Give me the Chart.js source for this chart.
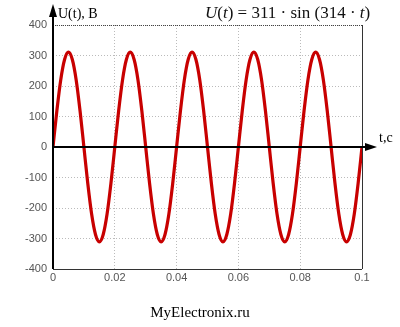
<!DOCTYPE html>
<html>
<head>
<meta charset="utf-8">
<script src="https://cdn.jsdelivr.net/npm/chart.js@4"></script>
<style>
  html, body { margin: 0; padding: 0; background: #fff; }
  #wrap { width: 400px; height: 327px; }
</style>
</head>
<body>
<div id="wrap"><canvas id="grafik" width="400" height="327"></canvas></div>
<script>
// vremena (s), korak 0.00125
const vremena = [
  0, 0.00125, 0.0025, 0.00375, 0.005, 0.00625, 0.0075, 0.00875,
  0.01, 0.01125, 0.0125, 0.01375, 0.015, 0.01625, 0.0175, 0.01875,
  0.02, 0.02125, 0.0225, 0.02375, 0.025, 0.02625, 0.0275, 0.02875,
  0.03, 0.03125, 0.0325, 0.03375, 0.035, 0.03625, 0.0375, 0.03875,
  0.04, 0.04125, 0.0425, 0.04375, 0.045, 0.04625, 0.0475, 0.04875,
  0.05, 0.05125, 0.0525, 0.05375, 0.055, 0.05625, 0.0575, 0.05875,
  0.06, 0.06125, 0.0625, 0.06375, 0.065, 0.06625, 0.0675, 0.06875,
  0.07, 0.07125, 0.0725, 0.07375, 0.075, 0.07625, 0.0775, 0.07875,
  0.08, 0.08125, 0.0825, 0.08375, 0.085, 0.08625, 0.0875, 0.08875,
  0.09, 0.09125, 0.0925, 0.09375, 0.095, 0.09625, 0.0975, 0.09875,
  0.1
];
// napon U(t), V - očitano sa slike
const napon = [
  0, 119, 220, 287, 311, 287, 220, 119,
  0, -119, -220, -287, -311, -287, -220, -119,
  0, 119, 220, 287, 311, 287, 220, 119,
  0, -119, -220, -287, -311, -287, -220, -119,
  0, 119, 220, 287, 311, 287, 220, 119,
  0, -119, -220, -287, -311, -287, -220, -119,
  0, 119, 220, 287, 311, 287, 220, 119,
  0, -119, -220, -287, -311, -287, -220, -119,
  0, 119, 220, 287, 311, 287, 220, 119,
  0, -119, -220, -287, -311, -287, -220, -119,
  0
];
const xOznake = [0, 0.02, 0.04, 0.06, 0.08, 0.1];
const yOznake = [-400, -300, -200, -100, 0, 100, 200, 300, 400];

const dodaci = {
  id: 'dodaci',
  beforeDatasetsDraw(chart) {
    const { ctx, chartArea: a } = chart;
    ctx.save();
    // okvir desno i dolje
    ctx.strokeStyle = '#333';
    ctx.lineWidth = 1;
    ctx.setLineDash([]);
    ctx.beginPath();
    ctx.moveTo(a.right + 0.5, a.top);
    ctx.lineTo(a.right + 0.5, a.bottom);
    ctx.moveTo(a.left, a.bottom + 0.5);
    ctx.lineTo(a.right, a.bottom + 0.5);
    ctx.stroke();
    ctx.strokeStyle = '#444';
    ctx.setLineDash([1, 1]);
    ctx.beginPath();
    ctx.moveTo(a.left, a.top + 0.5);
    ctx.lineTo(a.right, a.top + 0.5);
    ctx.stroke();
    ctx.restore();
  },
  afterDatasetsDraw(chart) {
    const { ctx, chartArea: a, scales: { y } } = chart;
    const y0 = y.getPixelForValue(0);
    ctx.save();
    ctx.strokeStyle = '#000';
    ctx.fillStyle = '#000';
    ctx.lineWidth = 2;
    // os x
    ctx.beginPath();
    ctx.moveTo(a.left, y0);
    ctx.lineTo(368, y0);
    ctx.stroke();
    ctx.beginPath();
    ctx.moveTo(377, y0);
    ctx.lineTo(365, y0 - 4);
    ctx.lineTo(365, y0 + 4);
    ctx.closePath();
    ctx.fill();
    // os y
    ctx.beginPath();
    ctx.moveTo(a.left, a.bottom);
    ctx.lineTo(a.left, 14);
    ctx.stroke();
    ctx.beginPath();
    ctx.moveTo(a.left, 4);
    ctx.lineTo(a.left - 4, 17);
    ctx.lineTo(a.left + 4, 17);
    ctx.closePath();
    ctx.fill();
    // natpisi
    ctx.textBaseline = 'alphabetic';
    ctx.textAlign = 'left';
    ctx.font = '14px "Liberation Serif", serif';
    ctx.fillStyle = '#000';
    ctx.fillText('U(t), B', 58, 18);
    ctx.fillText('t,c', 379, 142);
    ctx.font = '15px "Liberation Serif", serif';
    ctx.textAlign = 'center';
    ctx.fillText('MyElectronix.ru', 200, 317);
    // formula
    const dijelovi = [
      ['U', true], ['(', false], ['t', true], [') = 311 · sin (314 · ', false], ['t', true], [')', false]
    ];
    ctx.textAlign = 'left';
    ctx.fillStyle = '#111';
    let px = 205;
    dijelovi.forEach(([tekst, kurziv]) => {
      ctx.font = (kurziv ? 'italic ' : '') + '17px "Liberation Serif", serif';
      ctx.fillText(tekst, px, 18);
      px += ctx.measureText(tekst).width;
    });
    ctx.restore();
  }
};

new Chart(document.getElementById('grafik'), {
  type: 'line',
  data: {
    datasets: [{
      data: vremena.map((t, i) => ({ x: t, y: napon[i] })),
      borderColor: '#c80000',
      borderWidth: 3.2,
      pointRadius: 0,
      cubicInterpolationMode: 'monotone',
      fill: false
    }]
  },
  plugins: [dodaci],
  options: {
    responsive: false,
    animation: false,
    layout: { padding: { top: 25, right: 38, left: 0, bottom: 0 } },
    plugins: { legend: { display: false }, tooltip: { enabled: false } },
    scales: {
      x: {
        type: 'linear',
        min: 0,
        max: 0.1,
        afterFit: s => { s.height = 58; },
        afterBuildTicks: s => { s.ticks = xOznake.map(v => ({ value: v })); },
        grid: { color: '#bbb', drawTicks: false, lineWidth: 1 },
        border: { display: false, dash: [1, 2] },
        ticks: {
          padding: 2,
          color: '#555',
          font: { family: 'Liberation Sans', size: 11 },
          maxRotation: 0,
          callback: v => String(v)
        }
      },
      y: {
        min: -400,
        max: 400,
        afterFit: s => { s.width = 53; },
        afterBuildTicks: s => { s.ticks = yOznake.map(v => ({ value: v })); },
        grid: { color: '#bbb', drawTicks: false, lineWidth: 1 },
        border: { display: false, dash: [1, 2] },
        ticks: {
          padding: 6,
          color: '#555',
          font: { family: 'Liberation Sans', size: 11 }
        }
      }
    }
  }
});
</script>
</body>
</html>
